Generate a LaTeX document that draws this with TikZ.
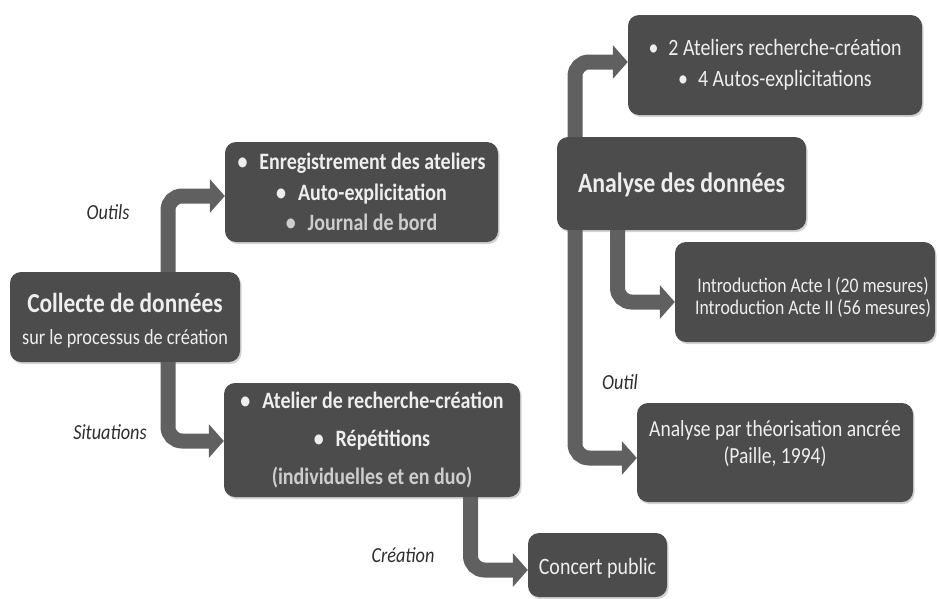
\documentclass[tikz,border=0pt]{standalone}
\usepackage{fontspec}
\setmainfont{Carlito}[FakeStretch=0.85]
\usetikzlibrary{arrows.meta,shadows}
\definecolor{boxfill}{RGB}{76,76,76}
\definecolor{arrowcol}{RGB}{96,96,96}
\definecolor{boxtext}{RGB}{238,238,238}
\definecolor{dimtext}{RGB}{205,205,205}
\definecolor{labeltext}{RGB}{45,45,45}
\begin{document}
\begin{tikzpicture}[x=1pt,y=-1pt,
  box/.style={draw=none, fill=boxfill, rounded corners=11pt, inner sep=0pt,
    drop shadow={shadow xshift=1.5pt, shadow yshift=-2pt, opacity=0.35}},
  btxt/.style={text=boxtext, align=center, inner sep=0pt},
  arr/.style={draw=arrowcol, line width=15pt, rounded corners=14pt, -{Triangle[length=15pt,width=33pt]}},
  lab/.style={font=\fontsize{21.5}{24}\selectfont\itshape, text=labeltext}]
\useasboundingbox (0,0) rectangle (939,598);

% boxes
\node[box, minimum width=230pt, minimum height=90pt]  (coll)  at (125,317) {};
\node[box, minimum width=273pt, minimum height=100pt] (enr)   at (361.5,192) {};
\node[box, minimum width=296pt, minimum height=114pt] (ate)   at (372,440) {};
\node[box, minimum width=139pt, minimum height=64pt]  (conc)  at (597.5,565) {};
\node[box, minimum width=294pt, minimum height=100pt] (ate2)  at (775,65) {};
\node[box, minimum width=249pt, minimum height=93pt]  (ana)   at (681.5,183.5) {};
\node[box, minimum width=260pt, minimum height=100pt] (intro) at (805,292) {};
\node[box, minimum width=276pt, minimum height=99pt]  (theo)  at (775,452.5) {};

% texts
\node[btxt, font=\fontsize{27.5}{32}\selectfont] (colltxt) at ([yshift=-4pt]coll.center)
  {{\bfseries Collecte de données}\\{\fontsize{21.5}{32}\selectfont sur le processus de création}};
\node[btxt, font=\fontsize{23.5}{30.5}\selectfont\bfseries] (enrtxt) at (enr.center)
  {\textbullet\hspace{12pt}Enregistrement des ateliers\\
   \textbullet\hspace{12pt}Auto-explicitation\\
   \textcolor{dimtext}{\textbullet\hspace{12pt}Journal de bord}};
\node[btxt, font=\fontsize{23.5}{38}\selectfont\bfseries] (atetxt) at (ate.center)
  {\textbullet\hspace{12pt}Atelier de recherche-création\\
   \textbullet\hspace{12pt}Répétitions\\
   \textcolor{dimtext}{(individuelles et en duo)}};
\node[btxt, font=\fontsize{23.5}{28}\selectfont] (conctxt) at ([yshift=-3pt]conc.center) {Concert public};
\node[btxt, font=\fontsize{23.4}{31}\selectfont] (ate2txt) at (ate2.center)
  {\textbullet\hspace{10pt}2 Ateliers recherche-création\\
   \textbullet\hspace{10pt}4 Autos-explicitations};
\node[btxt, font=\fontsize{28}{32}\selectfont\bfseries] (anatxt) at ([yshift=-1.5pt]ana.center) {Analyse des données};
\node[btxt, font=\fontsize{20.8}{22}\selectfont] (introtxt) at ([yshift=-5.5pt,xshift=8pt]intro.center)
  {Introduction Acte I (20 mesures)\\Introduction Acte II (56 mesures)};
\node[btxt, font=\fontsize{23}{27}\selectfont] (theotxt) at ([yshift=9pt]theo.center)
  {Analyse par théorisation ancrée\\(Paille, 1994)};

% connectors
\draw[arr] ([xshift=43pt]coll.north) |- ([yshift=-4pt]enr.west);
\draw[arr] ([xshift=43pt]coll.south) |- ([yshift=-1pt]ate.west);
\draw[arr] ([xshift=98.5pt]ate.south) |- ([yshift=-5pt]conc.west);
\draw[arr] ([xshift=-106.5pt]ana.north) |- ([yshift=3pt]ate2.west);
\draw[arr] ([xshift=-64pt]ana.south) |- ([yshift=-10pt]intro.west);
\draw[arr] ([xshift=-106.5pt]ana.south) |- ([yshift=-5.5pt]theo.west);

% labels
\node[lab] (l1) at (108,212) {Outils};
\node[lab] (l2) at (110,432) {Situations};
\node[lab] (l3) at (403,555) {Création};
\node[lab] (l4) at (620,382) {Outil};
\end{tikzpicture}
\end{document}
